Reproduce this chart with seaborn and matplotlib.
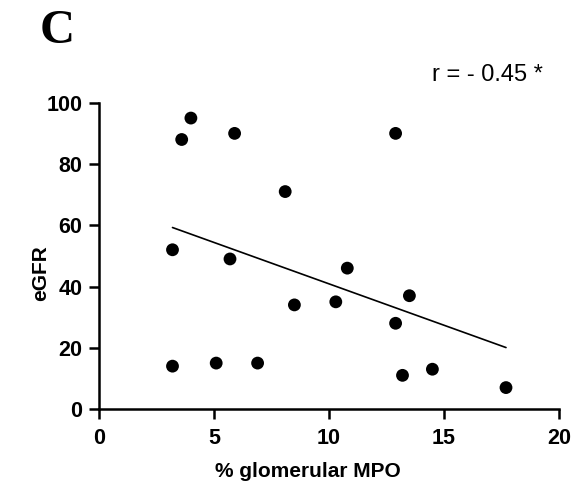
import numpy as np
import pandas as pd
import matplotlib
matplotlib.use("Agg")
import matplotlib.pyplot as plt
import seaborn as sns

# values
mpo_pct = [4.0, 3.6, 5.9, 8.1, 3.2, 5.7, 12.9, 10.8, 8.5, 10.3,
           3.2, 5.1, 6.9, 13.5, 12.9, 13.2, 14.5, 17.7]
egfr = [95, 88, 90, 71, 52, 49, 90, 46, 34, 35,
        14, 15, 15, 37, 28, 11, 13, 7]
x_ticks = [0, 5, 10, 15, 20]
y_ticks = [0, 20, 40, 60, 80, 100]

df = pd.DataFrame({"mpo": mpo_pct, "egfr": egfr})

sns.set_style("ticks")
plt.rcParams["font.family"] = ["Liberation Sans", "DejaVu Sans"]
plt.rcParams["text.color"] = "black"
plt.rcParams["axes.labelcolor"] = "black"
plt.rcParams["xtick.color"] = "black"
plt.rcParams["ytick.color"] = "black"
plt.rcParams["axes.edgecolor"] = "black"

fig = plt.figure(figsize=(5.75, 4.94), dpi=100)
ax = fig.add_axes([0.172, 0.172, 0.80, 0.62])

sns.regplot(data=df, x="mpo", y="egfr", ci=None, ax=ax, truncate=True,
            scatter_kws=dict(s=85, color="black", alpha=1, edgecolor="none", zorder=3),
            line_kws=dict(color="black", linewidth=1.2))

ax.set_xlim(0, 20)
ax.set_ylim(0, 100)
ax.set_xticks(x_ticks)
ax.set_yticks(y_ticks)
ax.set_xlabel("% glomerular MPO", fontsize=15, fontweight="bold")
ax.set_ylabel("eGFR", fontsize=15, fontweight="bold")
ax.xaxis.set_label_coords(0.454, -0.172)
ax.yaxis.set_label_coords(-0.105, 0.444)
for lab in ax.get_xticklabels() + ax.get_yticklabels():
    lab.set_fontweight("bold")
ax.tick_params(axis="both", labelsize=15.5, width=1.8, length=7, pad=5)
ax.tick_params(axis="x", pad=7)
for side in ["left", "bottom"]:
    ax.spines[side].set_linewidth(1.8)
sns.despine(ax=ax)
ax.spines["left"].set_bounds(0, 100)

r = np.corrcoef(mpo_pct, egfr)[0, 1]
print("r =", r)

fig.text(0.1, 0.937, "C", fontsize=35, fontweight="bold", family="Liberation Serif",
         ha="center", va="center")
fig.text(0.847, 0.848, "r = - 0.45 *", fontsize=17, ha="center", va="center")

fig.savefig("out.png", dpi=100)
